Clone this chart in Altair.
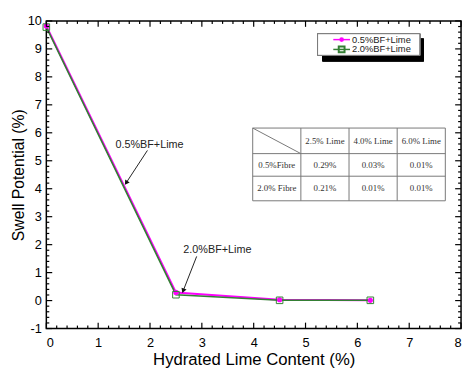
import altair as alt
import pandas as pd
import numpy as np

# ---- data ----
lime = [0.0, 2.5, 4.5, 6.25]
swell_05 = [9.82, 0.29, 0.03, 0.01]
swell_20 = [9.78, 0.21, 0.01, 0.01]
series_names = ["0.5%BF+Lime", "2.0%BF+Lime"]

table_cols = ["", "2.5% Lime", "4.0% Lime", "6.0% Lime"]
table_rows = [["0.5%Fibre", "0.29%", "0.03%", "0.01%"],
              ["2.0% Fibre", "0.21%", "0.01%", "0.01%"]]

ann_text = ["0.5%BF+Lime", "2.0%BF+Lime"]
ann_tx = [1.99, 3.30]
ann_ty = [5.55, 1.79]
ann_x1 = [1.95, 2.90]
ann_y1 = [5.37, 1.58]
ann_x2 = [1.54, 2.64]
ann_y2 = [4.21, 0.35]

W, H = 422, 313
XMIN, XMAX, YMIN, YMAX = 0, 8, -1, 10
sx = W / (XMAX - XMIN)
sy = H / (YMAX - YMIN)

xs = alt.Scale(domain=[XMIN, XMAX], nice=False, zero=False)
ys = alt.Scale(domain=[YMIN, YMAX], nice=False, zero=False)

df = pd.DataFrame({
    "x": lime * 2,
    "y": swell_05 + swell_20,
    "s": [series_names[0]] * 4 + [series_names[1]] * 4,
})
d05 = df[df.s == series_names[0]]
d20 = df[df.s == series_names[1]]

MAG = "#ff00ff"
GRN = "#347f34"

base_axes = alt.Chart(df).mark_point(opacity=0).encode(
    x=alt.X("x:Q", scale=xs, title="Hydrated Lime Content (%)",
            axis=alt.Axis(values=list(range(0, 9)), ticks=False, tickSize=0, grid=False,
                          labelPadding=8, titlePadding=3, domain=False,
                          labelExpr="replace(datum.label, '\u2212', '-')",
                          labelFont="Liberation Sans", labelFontSize=13,
                          titleFont="Liberation Sans", titleFontSize=17,
                          titleFontWeight="normal", labelColor="black", titleColor="black")),
    y=alt.Y("y:Q", scale=ys, title="Swell Potential (%)",
            axis=alt.Axis(values=list(range(-1, 11)), ticks=False, tickSize=0, grid=False,
                          labelPadding=5, titlePadding=1, domain=False,
                          labelExpr="replace(datum.label, '\u2212', '-')",
                          labelFont="Liberation Sans", labelFontSize=13,
                          titleFont="Liberation Sans", titleFontSize=16,
                          titleFontWeight="normal", labelColor="black", titleColor="black")),
)

line05 = alt.Chart(d05).mark_line(color=MAG, strokeWidth=2).encode(
    x=alt.X("x:Q", scale=xs, axis=None), y=alt.Y("y:Q", scale=ys, axis=None))
line20 = alt.Chart(d20).mark_line(color=GRN, strokeWidth=1.6).encode(
    x=alt.X("x:Q", scale=xs, axis=None), y=alt.Y("y:Q", scale=ys, axis=None))
pt05 = alt.Chart(d05).mark_point(shape="circle", filled=True, color=MAG, size=28, opacity=1).encode(
    x=alt.X("x:Q", scale=xs, axis=None), y=alt.Y("y:Q", scale=ys, axis=None))
pt20 = alt.Chart(d20).mark_point(shape="square", filled=False, color=GRN, size=45,
                                  strokeWidth=1, opacity=1).encode(
    x=alt.X("x:Q", scale=xs, axis=None), y=alt.Y("y:Q", scale=ys, axis=None))

# ---- inward ticks on all four sides ----
xmaj = np.arange(0, 9, 1.0)
xmin_ = np.array([v for v in np.round(np.arange(0, 8.001, 0.2), 2) if abs(v - round(v)) > 1e-6])
ymaj = np.arange(-1, 11, 1.0)
ymin_ = np.array([v for v in np.round(np.arange(-1, 10.001, 0.2), 2) if abs(v - round(v)) > 1e-6])

tick_layers = []
for vals, ln in [(xmaj, 6), (xmin_, 3)]:
    tdf = pd.DataFrame({"x": vals})
    for y0, y1 in [(H, H - ln), (0, ln)]:
        tick_layers.append(alt.Chart(tdf).mark_rule(color="black", strokeWidth=1.2).encode(
            x=alt.X("x:Q", scale=xs, axis=None), y=alt.value(y0), y2=alt.value(y1)))
for vals, ln in [(ymaj, 6), (ymin_, 3)]:
    tdf = pd.DataFrame({"y": vals})
    for x0, x1 in [(0, ln), (W, W - ln)]:
        tick_layers.append(alt.Chart(tdf).mark_rule(color="black", strokeWidth=1.2).encode(
            y=alt.Y("y:Q", scale=ys, axis=None), x=alt.value(x0), x2=alt.value(x1)))

# ---- annotations ----
adf = pd.DataFrame({"t": ann_text, "tx": ann_tx, "ty": ann_ty,
                    "x1": ann_x1, "y1": ann_y1, "x2": ann_x2, "y2": ann_y2})
adf["ang"] = [float(np.degrees(np.arctan2((b - a) * sx, (d - c) * sy)) % 360)
              for a, b, c, d in zip(adf.x1, adf.x2, adf.y1, adf.y2)]
ann_txt = alt.Chart(adf).mark_text(font="Liberation Sans", fontSize=11, color="#222").encode(
    x=alt.X("tx:Q", scale=xs, axis=None), y=alt.Y("ty:Q", scale=ys, axis=None), text="t:N")
ann_line = alt.Chart(adf).mark_rule(color="#222", strokeWidth=1).encode(
    x=alt.X("x1:Q", scale=xs, axis=None), y=alt.Y("y1:Q", scale=ys, axis=None),
    x2="x2:Q", y2="y2:Q")
ann_head = alt.Chart(adf).mark_point(shape="triangle-up", filled=True, color="#111",
                                      size=30, opacity=1).encode(
    x=alt.X("x2:Q", scale=xs, axis=None), y=alt.Y("y2:Q", scale=ys, axis=None),
    angle=alt.Angle("ang:Q", scale=None))

# ---- legend (pixel coordinates) ----
leg_shadow = alt.Chart(df).mark_rect(color="black").encode(
    x=alt.value(281), x2=alt.value(384), y=alt.value(18), y2=alt.value(41))
leg_box = alt.Chart(df).mark_rect(fill="white", stroke="#777", strokeWidth=1).encode(
    x=alt.value(276), x2=alt.value(380), y=alt.value(13), y2=alt.value(35))
leg_df = pd.DataFrame({"s": series_names, "py": [19, 29]})
leg_l05 = alt.Chart(leg_df.iloc[[0]]).mark_rule(color=MAG, strokeWidth=1.5).encode(
    x=alt.value(292), x2=alt.value(309), y=alt.Y("py:Q", scale=None, axis=None))
leg_l20 = alt.Chart(leg_df.iloc[[1]]).mark_rule(color=GRN, strokeWidth=1.5).encode(
    x=alt.value(292), x2=alt.value(309), y=alt.Y("py:Q", scale=None, axis=None))
leg_p05 = alt.Chart(leg_df.iloc[[0]]).mark_point(shape="circle", filled=True, color=MAG,
                                                  size=22, opacity=1).encode(
    x=alt.value(300.5), y=alt.Y("py:Q", scale=None, axis=None))
leg_p20 = alt.Chart(leg_df.iloc[[1]]).mark_point(shape="square", filled=False, color=GRN,
                                                  size=35, opacity=1).encode(
    x=alt.value(300.5), y=alt.Y("py:Q", scale=None, axis=None))
leg_txt = alt.Chart(leg_df).mark_text(align="left", baseline="middle", font="Liberation Sans",
                                      fontSize=9.5, color="#222").encode(
    x=alt.value(311), y=alt.Y("py:Q", scale=None, axis=None), text="s:N")

# ---- table (pixel coordinates) ----
col_edges = [210, 259, 308, 357, 406]
row_edges = [109, 135, 158, 183]
cells = []
for j, c in enumerate(table_cols):
    cells.append({"px": (col_edges[j] + col_edges[j + 1]) / 2,
                  "py": (row_edges[0] + row_edges[1]) / 2, "t": c})
for i, r in enumerate(table_rows):
    for j, c in enumerate(r):
        cells.append({"px": (col_edges[j] + col_edges[j + 1]) / 2,
                      "py": (row_edges[i + 1] + row_edges[i + 2]) / 2, "t": c})
cell_df = pd.DataFrame(cells)
tab_bg = alt.Chart(df).mark_rect(fill="white").encode(
    x=alt.value(col_edges[0]), x2=alt.value(col_edges[-1]),
    y=alt.value(row_edges[0]), y2=alt.value(row_edges[-1]))
segs = []
for xe in col_edges:
    segs.append({"a": xe, "b": row_edges[0], "c": xe, "d": row_edges[-1]})
for ye in row_edges:
    segs.append({"a": col_edges[0], "b": ye, "c": col_edges[-1], "d": ye})
segs.append({"a": col_edges[0], "b": row_edges[0], "c": col_edges[1], "d": row_edges[1]})
seg_df = pd.DataFrame(segs)
tab_lines = alt.Chart(seg_df).mark_rule(color="#777", strokeWidth=1).encode(
    x=alt.X("a:Q", scale=None, axis=None), y=alt.Y("b:Q", scale=None, axis=None),
    x2="c:Q", y2="d:Q")
tab_txt = alt.Chart(cell_df).mark_text(font="Liberation Serif", fontSize=9, color="#333",
                                       baseline="middle").encode(
    x=alt.X("px:Q", scale=None, axis=None), y=alt.Y("py:Q", scale=None, axis=None), text="t:N")

chart = alt.layer(
    base_axes, line05, line20, pt05, pt20, *tick_layers,
    ann_line, ann_head, ann_txt,
    tab_bg, tab_lines, tab_txt,
    leg_shadow, leg_box, leg_l05, leg_l20, leg_p05, leg_p20, leg_txt,
).resolve_scale(x="independent", y="independent").properties(
    width=W, height=H,
    autosize=alt.AutoSizeParams(type="none"),
    padding={"left": 39, "top": 10, "right": 3, "bottom": 38},
    background="white",
).configure_view(stroke="black", strokeWidth=1.5)

chart.save("out.html", embed_options={"renderer": "svg", "actions": False})
